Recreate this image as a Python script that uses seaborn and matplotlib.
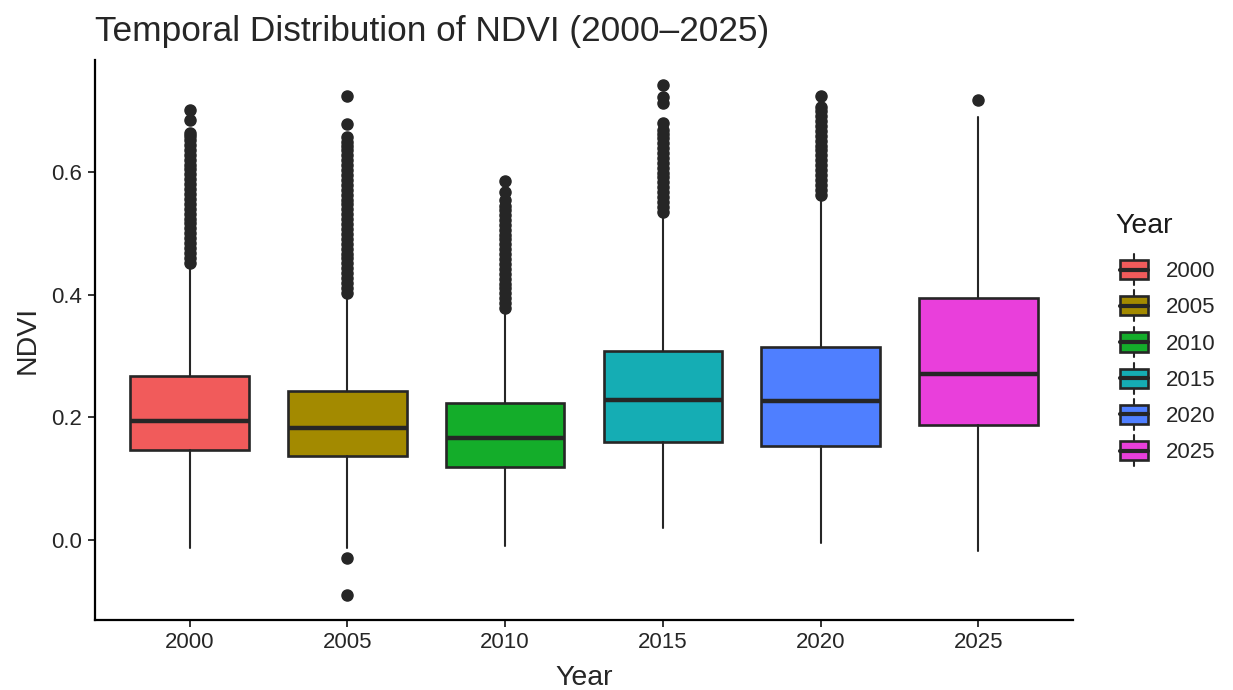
import matplotlib
matplotlib.use("Agg")
import matplotlib.pyplot as plt
import seaborn as sns
from matplotlib.lines import Line2D
from matplotlib.patches import Patch, Rectangle
from matplotlib.legend_handler import HandlerBase

sns.set_style("ticks")
plt.rcParams["font.family"] = ["Liberation Sans", "DejaVu Sans"]

# box statistics (NDVI per year)
years = ["2000", "2005", "2010", "2015", "2020", "2025"]
whis_lo = [-0.013, -0.013, -0.010, 0.020, -0.005, -0.018]
q1 = [0.147, 0.137, 0.119, 0.159, 0.153, 0.187]
median = [0.194, 0.182, 0.167, 0.228, 0.227, 0.271]
q3 = [0.267, 0.243, 0.223, 0.308, 0.315, 0.394]
whis_hi = [0.445, 0.398, 0.373, 0.530, 0.558, 0.690]

out_2000 = [0.452, 0.460, 0.468, 0.476, 0.484, 0.492, 0.500, 0.508, 0.516, 0.524,
            0.532, 0.540, 0.548, 0.556, 0.564, 0.572, 0.580, 0.588, 0.596, 0.604,
            0.612, 0.620, 0.628, 0.636, 0.644, 0.652, 0.658, 0.664, 0.684, 0.701]
out_2005 = [-0.029, -0.090,
            0.403, 0.411, 0.419, 0.427, 0.435, 0.443, 0.451, 0.459, 0.467, 0.475,
            0.483, 0.491, 0.499, 0.507, 0.515, 0.523, 0.531, 0.539, 0.547, 0.555,
            0.563, 0.571, 0.579, 0.587, 0.595, 0.603, 0.611, 0.619, 0.627, 0.635,
            0.642, 0.649, 0.657, 0.678, 0.723]
out_2010 = [0.378, 0.386, 0.394, 0.402, 0.410, 0.418, 0.426, 0.434, 0.442, 0.450,
            0.458, 0.466, 0.474, 0.482, 0.490, 0.498, 0.506, 0.514, 0.522, 0.530,
            0.538, 0.545, 0.554, 0.568, 0.585]
out_2015 = [0.535, 0.543, 0.551, 0.559, 0.567, 0.575, 0.583, 0.591, 0.599, 0.607,
            0.615, 0.623, 0.631, 0.639, 0.647, 0.655, 0.662, 0.668, 0.680, 0.712,
            0.722, 0.742]
out_2020 = [0.563, 0.571, 0.579, 0.587, 0.595, 0.603, 0.611, 0.619, 0.627, 0.635,
            0.643, 0.651, 0.659, 0.667, 0.675, 0.683, 0.691, 0.699, 0.706, 0.724]
out_2025 = [0.718]
outliers = [out_2000, out_2005, out_2010, out_2015, out_2020, out_2025]

colors = ["#F15B5B", "#A38A00", "#14AD2A", "#15ADB4", "#4F7FFF", "#E93FDB"]
palette = sns.color_palette(colors)

dark = "#262626"


class BoxKey(HandlerBase):
    # small boxplot glyph for the legend, like ggplot's key
    def create_artists(self, legend, orig_handle, xdescent, ydescent,
                       width, height, fontsize, trans):
        x0, y0 = -xdescent, -ydescent
        cx = x0 + width / 2
        stub = Line2D([cx, cx], [y0 - 0.3 * height, y0 + 1.3 * height],
                      color=dark, linewidth=1.5, transform=trans)
        box = Rectangle((x0, y0), width, height, facecolor=orig_handle.get_facecolor(),
                        edgecolor=dark, linewidth=1.9, transform=trans)
        med = Line2D([x0, x0 + width], [y0 + height / 2, y0 + height / 2],
                     color=dark, linewidth=3.0, transform=trans)
        return [stub, box, med]


stats = []
for i, y in enumerate(years):
    stats.append({"label": y, "whislo": whis_lo[i], "q1": q1[i], "med": median[i],
                  "q3": q3[i], "whishi": whis_hi[i], "fliers": outliers[i]})

fig = plt.figure(figsize=(12.33, 6.9), dpi=100)
ax = fig.add_axes([95 / 1233, 70 / 690, 978 / 1233, 560 / 690])

bp = ax.bxp(stats, positions=range(len(years)), widths=0.75, patch_artist=True,
            showcaps=False,
            boxprops=dict(edgecolor=dark, linewidth=1.9),
            medianprops=dict(color=dark, linewidth=3.2, solid_capstyle="butt"),
            whiskerprops=dict(color=dark, linewidth=1.5),
            flierprops=dict(marker="o", markerfacecolor=dark, markeredgecolor=dark,
                            markersize=8, linestyle="none"))
for patch, c in zip(bp["boxes"], palette):
    patch.set_facecolor(c)

ax.set_xlim(-0.6, len(years) - 0.4)
ax.set_ylim(-0.1305, 0.7825)
ax.set_yticks([0.0, 0.2, 0.4, 0.6])
ax.set_yticklabels(["0.0", "0.2", "0.4", "0.6"])
ax.set_xticks(range(len(years)))
ax.set_xticklabels(years)
ax.tick_params(axis="both", labelsize=16, length=5, width=1.4, color="#333333",
               labelcolor="#262626", pad=4)
for s in ["left", "bottom"]:
    ax.spines[s].set_linewidth(1.6)
    ax.spines[s].set_color("black")
sns.despine(ax=ax)

ax.set_xlabel("Year", fontsize=20.5, labelpad=8)
ax.set_ylabel("NDVI", fontsize=20.5, labelpad=8)
ax.set_title("Temporal Distribution of NDVI (2000\u20132025)", fontsize=25.4,
             loc="left", pad=14)

handles = [Patch(facecolor=c) for c in palette]
leg = fig.legend(handles, years, loc="upper left",
                 bbox_to_anchor=(1100 / 1233, 1 - 240 / 690), frameon=False,
                 handler_map={Patch: BoxKey()},
                 fontsize=16, handlelength=1.25, handleheight=0.95,
                 labelspacing=0.63, handletextpad=0.8)
fig.text(1115 / 1233, 1 - 226 / 690, "Year", fontsize=20.5, color="#1a1a1a",
         ha="left", va="center")

fig.savefig("out.png", dpi=100)
